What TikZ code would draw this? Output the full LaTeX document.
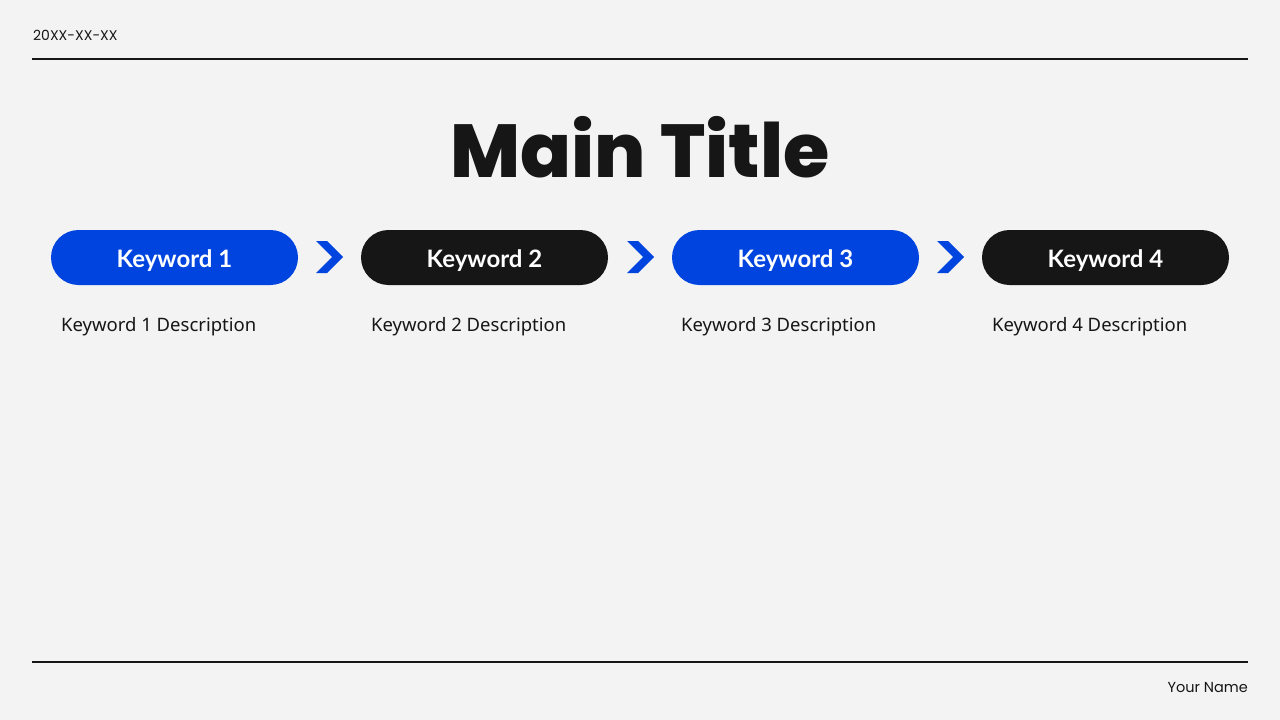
\documentclass[tikz,border=0pt]{standalone}
\usepackage{fontspec}
\setmainfont{Noto Sans}
\newfontfamily\metafont{Poppins}
\newfontfamily\pillfont{Lato}
\IfFontExistsTF{Poppins ExtraBold}
  {\newfontfamily\titlefont{Poppins ExtraBold}}
  {\newcommand\titlefont{\metafont\bfseries}}
\definecolor{bg}{HTML}{F3F3F3}
\definecolor{ink}{HTML}{161616}
\definecolor{kblue}{HTML}{0044E0}
\tikzset{
  pill/.style={rounded corners=27.5pt, minimum width=247pt, minimum height=55pt, inner sep=0pt, text=white, text height=20.5pt, text depth=0pt, font=\pillfont\bfseries\fontsize{24}{26}\selectfont},
  bluepill/.style={pill, fill=kblue},
  darkpill/.style={pill, fill=ink},
  desc/.style={anchor=base west, inner sep=0pt, text=ink, font=\fontsize{18.5}{22}\selectfont},
  rule/.style={draw=ink, line width=1.5pt},
  chev/.style={fill=kblue, draw=none},
}
\begin{document}
\begin{tikzpicture}[x=1pt,y=-1pt]
\fill[bg] (0,0) rectangle (1280,720);
\useasboundingbox (0,0) rectangle (1280,720);
\node[anchor=west, inner sep=0pt, text=ink, font=\metafont\fontsize{14}{16}\selectfont] (date) at (33,35) {20XX-XX-XX};
\coordinate (tl) at (32,59); \coordinate (tr) at (1248,59);
\draw[rule] (tl) -- (tr);
\node[anchor=base, inner sep=0pt, text=ink, font=\titlefont\fontsize{75}{90}\selectfont] (title) at (640,177) {Main Title};
\node[bluepill] (k1) at (174.5,257.5) {Keyword 1};
\node[darkpill] (k2) at (484.5,257.5) {Keyword 2};
\node[bluepill] (k3) at (795.5,257.5) {Keyword 3};
\node[darkpill] (k4) at (1105.5,257.5) {Keyword 4};
\foreach \cx in {316,627,937}{
  \fill[chev] (\cx,241) -- (\cx+11,241) -- (\cx+27,257) -- (\cx+11,273) -- (\cx,273) -- (\cx+16,257) -- cycle;
}
\node[desc] (d1) at (61,331) {Keyword 1 Description};
\node[desc] (d2) at (371,331) {Keyword 2 Description};
\node[desc] (d3) at (681,331) {Keyword 3 Description};
\node[desc] (d4) at (992,331) {Keyword 4 Description};
\coordinate (bl) at (32,662); \coordinate (br) at (1248,662);
\draw[rule] (bl) -- (br);
\node[anchor=east, inner sep=0pt, text=ink, font=\metafont\fontsize{14.5}{16}\selectfont] (name) at (1248,687) {Your Name};
\end{tikzpicture}
\end{document}
